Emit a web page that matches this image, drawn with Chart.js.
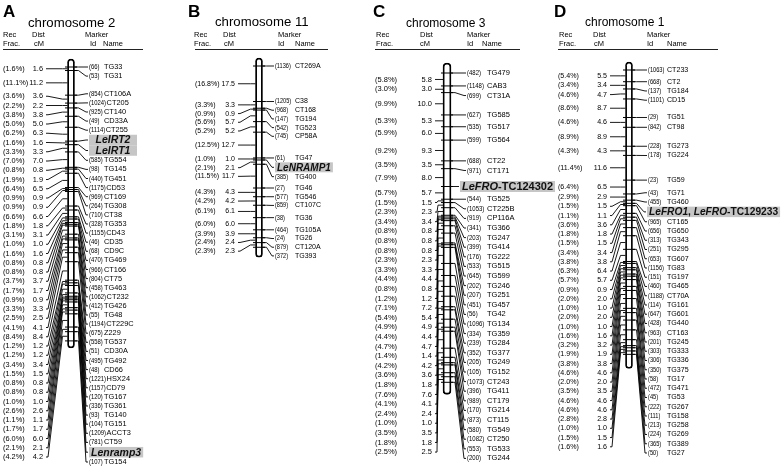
<!DOCTYPE html>
<html>
<head>
<meta charset="utf-8">
<script src="https://cdn.jsdelivr.net/npm/chart.js@4.4.1/dist/chart.umd.min.js"></script>
<style>
  html, body { margin: 0; padding: 0; background: #fff; }
  #fig { position: relative; width: 782px; height: 471px; overflow: hidden;
         font-family: "Liberation Sans", Arial, sans-serif; color: #000; }
  #fig canvas { position: absolute; top: 0; }
  .t { position: absolute; white-space: nowrap; line-height: 1; }
  .rule { position: absolute; height: 1px; background: #222; }
</style>
</head>
<body>
<div id="fig"></div>
<script>
// ---- data ----
// chromosome 2 (A)
const chr2Dist = [1.6, 11.2, 3.6, 2.2, 3.8, 5.0, 6.3, 1.6, 3.3, 7.0, 0.8, 1.9, 6.5, 0.9, 0.9, 6.6, 1.8, 3.1, 1.0, 1.6, 0.8,
  0.8, 3.7, 1.7, 0.9, 3.3, 2.5, 4.1, 8.4, 1.2, 1.2, 3.4, 1.5, 0.8, 0.8, 1.0, 2.6, 1.1, 1.7, 6.0, 2.1, 4.2];
const chr2Rec = [1.6, 11.1, 3.6, 2.2, 3.8, 5.0, 6.2, 1.6, 3.3, 7.0, 0.8, 1.9, 6.4, 0.9, 0.9, 6.6, 1.8, 3.1, 1.0, 1.6, 0.8,
  0.8, 3.7, 1.7, 0.9, 3.3, 2.5, 4.1, 8.4, 1.2, 1.2, 3.4, 1.5, 0.8, 0.8, 1.0, 2.6, 1.1, 1.7, 6.0, 2.1, 4.2];
const chr2Ids = [66, 53, 854, 1024, 925, 49, 1114, null, null, 585, 98, 440, 1175, 969, 264, 710, 328, 1155, 46, 68, 470,
  966, 804, 458, 1062, 412, 55, 1194, 675, 558, 51, 495, 48, 1221, 1157, 120, 336, 93, 104, 1209, 781, null, 107];
const chr2Names = ['TG33', 'TG31', 'CT106A', 'CT205', 'CT140', 'CD33A', 'CT255', 'LeIRT2', 'LeIRT1', 'TG554', 'TG145',
  'TG451', 'CD53', 'CT169', 'TG308', 'CT38', 'TG353', 'CD43', 'CD35', 'CD9C', 'TG469', 'CT166', 'CT75', 'TG463', 'CT232',
  'TG426', 'TG48', 'CT229C', 'Z229', 'TG537', 'CD30A', 'TG492', 'CD66', 'HSX24', 'CD79', 'TG167', 'TG361', 'TG140',
  'TG151', 'ACCT3', 'CT59', 'Lenramp3', 'TG154'];

// chromosome 11 (B)
const chr11Dist = [17.5, 3.3, 0.9, 5.7, 5.2, 12.7, 1.0, 2.1, 11.7, 4.3, 4.2, 6.1, 6.0, 3.9, 2.4, 2.3];
const chr11Rec = [16.8, 3.3, 0.9, 5.6, 5.2, 12.5, 1.0, 2.1, 11.5, 4.3, 4.2, 6.1, 6.0, 3.9, 2.4, 2.3];
const chr11Ids = [1136, 1205, 968, 147, 542, 745, 61, null, 385, 27, 577, 859, 38, 464, 24, 879, 372];
const chr11Names = ['CT269A', 'C38', 'CT168', 'TG194', 'TG523', 'CP58A', 'TG47', 'LeNRAMP1', 'TG400', 'TG46', 'TG546',
  'CT107C', 'TG36', 'TG105A', 'TG26', 'CT120A', 'TG393'];

// chromosome 3 (C)
const chr3Dist = [5.8, 3.0, 10.0, 5.3, 6.0, 9.3, 3.5, 8.0, 5.7, 1.5, 2.3, 3.4, 0.8, 0.8, 0.8, 2.3, 3.3, 4.4, 0.8, 1.2,
  7.2, 5.4, 4.9, 4.4, 4.7, 1.4, 4.2, 3.6, 1.8, 7.6, 4.1, 2.4, 1.0, 3.5, 1.8, 2.5];
const chr3Rec = [5.8, 3.0, 9.9, 5.3, 5.9, 9.2, 3.5, 7.9, 5.7, 1.5, 2.3, 3.4, 0.8, 0.8, 0.8, 2.3, 3.3, 4.4, 0.8, 1.2,
  7.1, 5.4, 4.9, 4.4, 4.7, 1.4, 4.2, 3.6, 1.8, 7.6, 4.1, 2.4, 1.0, 3.5, 1.8, 2.5];
const chr3Ids = [482, 1148, 699, 627, 535, 599, 688, 971, null, 544, 1053, 919, 341, 203, 399, 176, 533, 645, 202, 207,
  451, 56, 1096, 334, 239, 352, 205, 105, 1073, 396, 989, 170, 873, 580, 1082, 553, 200];
const chr3Names = ['TG479', 'CAB3', 'CT31A', 'TG585', 'TG517', 'TG564', 'CT22', 'CT171', 'LeFRO-TC124302', 'TG525',
  'CT225B', 'CP116A', 'TG366', 'TG247', 'TG414', 'TG222', 'TG515', 'TG599', 'TG246', 'TG251', 'TG457', 'TG42', 'TG134',
  'TG359', 'TG284', 'TG377', 'TG249', 'TG152', 'CT243', 'TG411', 'CT179', 'TG214', 'CT115', 'TG549', 'CT250', 'TG533',
  'TG244'];

// chromosome 1 (D)
const chr1Dist = [5.5, 3.4, 4.7, 8.7, 4.6, 8.9, 4.3, 11.6, 6.5, 2.9, 1.5, 1.1, 3.6, 1.8, 1.5, 3.4, 3.8, 6.4, 5.7, 0.9,
  2.0, 1.0, 2.0, 1.0, 1.6, 3.2, 1.9, 3.8, 4.6, 2.0, 3.5, 4.6, 4.6, 2.8, 1.0, 1.5, 1.6];
const chr1Rec = [5.4, 3.4, 4.6, 8.6, 4.6, 8.9, 4.3, 11.4, 6.4, 2.9, 1.5, 1.1, 3.6, 1.8, 1.5, 3.4, 3.8, 6.3, 5.7, 0.9,
  2.0, 1.0, 2.0, 1.0, 1.6, 3.2, 1.9, 3.8, 4.6, 2.0, 3.5, 4.6, 4.6, 2.8, 1.0, 1.5, 1.6];
const chr1Ids = [1063, 668, 137, 1101, 29, 842, 228, 178, 23, 43, 455, null, 965, 656, 313, 251, 653, 1156, 151, 460,
  1188, 114, 647, 428, 963, 201, 303, 306, 350, 58, 472, 45, 222, 111, 213, 224, 365, 50];
const chr1Names = ['CT233', 'CT2', 'TG184', 'CD15', 'TG51', 'CT98', 'TG273', 'TG224', 'TG59', 'TG71', 'TG460',
  'LeFRO1, LeFRO-TC129233', 'CT165', 'TG650', 'TG343', 'TG295', 'TG607', 'TG83', 'TG197', 'TG465', 'CT70A', 'TG161',
  'TG601', 'TG440', 'CT163', 'TG245', 'TG333', 'TG336', 'TG375', 'TG17', 'TG471', 'TG53', 'TG267', 'TG158', 'TG258',
  'TG269', 'TG389', 'TG27'];

// ---- layout ----
const FONT = '"Liberation Sans", Arial, sans-serif';
const H = 471;
const ID_SQUEEZE = 0.8; // marker ids are set in a narrow face

const panels = [
  { letter: 'A', title: 'chromosome 2', dist: chr2Dist, rec: chr2Rec, ids: chr2Ids, names: chr2Names,
    x0: 0, w: 188, rodX: 71, rodW: 7, y0: 67, s: 2.2, padT: 8, padB: 7,
    recX: 3, distR: 43, idX: 89, nameX: 104, hlX: 89, hlMinW: 48,
    gapL: 9.25, gapR: 9.1, tall: 10.5, botL: 457, botR: 462, fs: 7.4, hlFs: 10.5,
    head: { letterX: 3, titleX: 28, titleY: 27.3, titleFs: 13.2, recX: 3, distX: 32, cmX: 34,
            markerX: 85, idX: 90, nameX: 103, r1: 3, r2: 143 } },
  { letter: 'B', title: 'chromosome 11', dist: chr11Dist, rec: chr11Rec, ids: chr11Ids, names: chr11Names,
    x0: 188, w: 185, rodX: 259, rodW: 7, y0: 66, s: 2.03, padT: 8, padB: 10,
    recX: 195, distR: 235, idX: 275, nameX: 295, hlX: 275, hlMinW: 0,
    gapL: 8.7, gapR: 8.7, tall: 10, botL: 465, botR: 465, fs: 7.0, hlFs: 10,
    head: { letterX: 188, titleX: 215, titleY: 26, titleFs: 13.2, recX: 194, distX: 223, cmX: 224,
            markerX: 278, idX: 278, nameX: 295, r1: 195, r2: 328 } },
  { letter: 'C', title: 'chromosome 3', dist: chr3Dist, rec: chr3Rec, ids: chr3Ids, names: chr3Names,
    x0: 373, w: 182, rodX: 447, rodW: 8, y0: 73, s: 2.23, padT: 10, padB: 12,
    recX: 375, distR: 432, idX: 467, nameX: 487, hlX: 460, hlMinW: 0,
    gapL: 9.6, gapR: 9.6, tall: 11, botL: 454, botR: 460, fs: 7.5, hlFs: 11,
    head: { letterX: 373, titleX: 406, titleY: 26.7, titleFs: 12, recX: 376, distX: 420, cmX: 420,
            markerX: 467, idX: 467, nameX: 482, r1: 375, r2: 520 } },
  { letter: 'D', title: 'chromosome 1', dist: chr1Dist, rec: chr1Rec, ids: chr1Ids, names: chr1Names,
    x0: 555, w: 227, rodX: 629, rodW: 7, y0: 70, s: 2.13, padT: 8, padB: 14,
    recX: 558, distR: 607, idX: 648, nameX: 667, hlX: 647, hlMinW: 0,
    gapL: 9.25, gapR: 9.25, tall: 10.5, botL: 447, botR: 453, fs: 7.1, hlFs: 10.2,
    head: { letterX: 554, titleX: 585, titleY: 26, titleFs: 12, recX: 559, distX: 593, cmX: 594,
            markerX: 647, idX: 647, nameX: 667, r1: 558, r2: 718 } }
];

function cumulative(dist) {
  const out = [0];
  dist.forEach(d => out.push(Math.round((out[out.length - 1] + d) * 10) / 10));
  return out;
}

// push labels apart: down from the top, then back up from the bottom limit
function spread(nat, sizes, lo, hi) {
  const pos = nat.slice();
  for (let i = 0; i < pos.length; i++) {
    if (i === 0) pos[i] = Math.max(pos[i], lo);
    else pos[i] = Math.max(pos[i], pos[i - 1] + (sizes[i - 1] + sizes[i]) / 2);
  }
  const n = pos.length;
  if (pos[n - 1] > hi) pos[n - 1] = hi;
  for (let i = n - 2; i >= 0; i--) {
    pos[i] = Math.min(pos[i], pos[i + 1] - (sizes[i] + sizes[i + 1]) / 2);
  }
  return pos;
}

function richParts(name) {
  return name.split(/(-TC\d+|, )/).filter(Boolean)
    .map(t => ({ t: t, it: !/^(-TC|, )/.test(t) }));
}

const mapLabels = {
  id: 'mapLabels',
  afterDatasetsDraw(chart, args, opts) {
    const p = opts.panel;
    const ctx = chart.ctx;
    const xs = chart.scales.x, ys = chart.scales.y;
    const X = v => xs.getPixelForValue(v);
    const cum = cumulative(p.dist);
    const rodL = X(p.rodX) - p.rodW / 2, rodR = X(p.rodX) + p.rodW / 2;

    const midNat = p.dist.map((d, i) => ys.getPixelForValue(cum[i] + d / 2));
    const leftY = spread(midNat, midNat.map(() => p.gapL), 0, p.botL);
    const markNat = cum.map(c => ys.getPixelForValue(c));
    const sizes = p.ids.map(id => (id === null ? p.tall : p.gapR));
    const rightY = spread(markNat, sizes, 0, p.botR);

    ctx.save();
    ctx.strokeStyle = '#000';
    ctx.lineWidth = 0.9;

    // left ticks: interval labels to interval midpoints
    const lx0 = X(p.distR) + 3;
    midNat.forEach((n, i) => {
      const r = leftY[i];
      ctx.beginPath();
      ctx.moveTo(lx0, r);
      ctx.lineTo(lx0 + 2, r);
      ctx.lineTo(rodL - 5, n);
      ctx.lineTo(rodL, n);
      ctx.stroke();
    });

    // right ticks: markers to their labels
    markNat.forEach((n, i) => {
      const r = rightY[i];
      const end = (p.ids[i] === null ? X(p.hlX) : X(p.idX)) - 1;
      ctx.beginPath();
      ctx.moveTo(rodR, n);
      ctx.lineTo(rodR + 4, n);
      ctx.lineTo(end - 2, r);
      ctx.lineTo(end, r);
      ctx.stroke();
    });

    ctx.fillStyle = '#000';
    ctx.textBaseline = 'middle';
    ctx.font = p.fs + 'px ' + FONT;

    p.rec.forEach((v, i) => {
      ctx.textAlign = 'left';
      ctx.fillText('(' + v.toFixed(1) + '%)', X(p.recX), leftY[i]);
      ctx.textAlign = 'right';
      ctx.fillText(p.dist[i].toFixed(1), X(p.distR), leftY[i]);
    });

    ctx.textAlign = 'left';
    p.names.forEach((name, i) => {
      const r = rightY[i];
      const id = p.ids[i];
      if (id !== null) {
        ctx.font = p.fs + 'px ' + FONT;
        const idTxt = '(' + id + ')';
        const idW = ctx.measureText(idTxt).width * ID_SQUEEZE;
        ctx.save();
        ctx.translate(X(p.idX), r);
        ctx.scale(ID_SQUEEZE, 1);
        ctx.fillText(idTxt, 0, 0);
        ctx.restore();
        const nx = Math.max(X(p.nameX), X(p.idX) + idW + 0.5);
        ctx.fillText(name, nx, r);
        return;
      }
      const parts = richParts(name);
      let tw = 0;
      parts.forEach(pt => {
        ctx.font = (pt.it ? 'italic ' : '') + 'bold ' + p.hlFs + 'px ' + FONT;
        pt.w = ctx.measureText(pt.t).width;
        tw += pt.w;
      });
      const bw = Math.max(tw + 4, p.hlMinW);
      const bx = X(p.hlX);
      ctx.fillStyle = '#c6c6c6';
      ctx.fillRect(bx, r - p.tall / 2, bw, p.tall);
      ctx.fillStyle = '#111';
      let tx = bx + (bw - tw) / 2;
      parts.forEach(pt => {
        ctx.font = (pt.it ? 'italic ' : '') + 'bold ' + p.hlFs + 'px ' + FONT;
        ctx.fillText(pt.t, tx, r + 0.5);
        tx += pt.w;
      });
      ctx.fillStyle = '#000';
    });
    ctx.restore();
  }
};

const fig = document.getElementById('fig');

function addText(txt, x, baseline, size, style) {
  const el = document.createElement('div');
  el.className = 't';
  el.textContent = txt;
  el.style.left = x + 'px';
  el.style.top = (baseline - 0.8465 * size) + 'px';
  el.style.fontSize = size + 'px';
  if (style) Object.assign(el.style, style);
  fig.appendChild(el);
}

panels.forEach(p => {
  const canvas = document.createElement('canvas');
  canvas.width = p.w;
  canvas.height = H;
  canvas.style.left = p.x0 + 'px';
  fig.appendChild(canvas);

  const cum = cumulative(p.dist);
  const total = cum[cum.length - 1];
  const yMin = -p.y0 / p.s;

  new Chart(canvas, {
    type: 'bar',
    data: {
      datasets: [
        {
          type: 'bar',
          data: [{ x: p.rodX, y: [-p.padT / p.s, total + p.padB / p.s] }],
          backgroundColor: '#fff',
          borderColor: '#000',
          borderWidth: 1.8,
          borderRadius: p.rodW / 2,
          borderSkipped: false,
          barThickness: p.rodW,
          order: 2
        },
        {
          type: 'scatter',
          data: cum.map(c => ({ x: p.rodX, y: c })),
          pointStyle: 'line',
          pointRadius: 6,
          borderColor: '#000',
          pointBorderColor: '#000',
          pointBorderWidth: 1,
          order: 1
        }
      ]
    },
    options: {
      responsive: false,
      animation: false,
      devicePixelRatio: 1,
      events: [],
      layout: { padding: 0, autoPadding: false },
      scales: {
        x: { type: 'linear', min: p.x0, max: p.x0 + p.w, offset: false, display: false },
        y: { type: 'linear', min: yMin, max: yMin + H / p.s, reverse: true, display: false }
      },
      plugins: {
        legend: { display: false },
        tooltip: { enabled: false },
        mapLabels: { panel: p }
      }
    },
    plugins: [mapLabels]
  });

  const h = p.head;
  addText(p.letter, h.letterX, 17, 17, { fontWeight: 'bold' });
  addText(p.title, h.titleX, h.titleY, h.titleFs);
  addText('Rec', h.recX, 37.6, 7.5);
  addText('Frac.', h.recX, 46.6, 7.5);
  addText('Dist', h.distX, 37.6, 7.5);
  addText('cM', h.cmX, 46.6, 7.5);
  addText('Marker', h.markerX, 37.6, 7.5);
  addText('Id', h.idX, 46.6, 7.5);
  addText('Name', h.nameX, 46.6, 7.5);
  const rule = document.createElement('div');
  rule.className = 'rule';
  rule.style.left = h.r1 + 'px';
  rule.style.top = '49px';
  rule.style.width = (h.r2 - h.r1) + 'px';
  fig.appendChild(rule);
});
</script>
</body>
</html>
